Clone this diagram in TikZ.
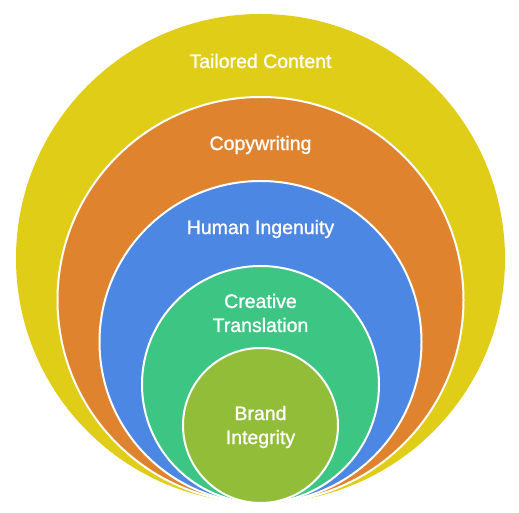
\documentclass[tikz,border=0pt]{standalone}
\usepackage{fontspec}
\setmainfont{Liberation Sans}
\newfontfamily\lblfont{Liberation Sans}[FakeBold=1.2]
\definecolor{tailyellow}{HTML}{DFCD17}
\definecolor{copyorange}{HTML}{E0832F}
\definecolor{humanblue}{HTML}{4D87E4}
\definecolor{creagreen}{HTML}{3DC584}
\definecolor{brandolive}{HTML}{92BD39}

\begin{document}
\begin{tikzpicture}[x=1pt,y=1pt,
  ring/.style={draw=white,line width=2pt},
  lbl/.style={text=white,font=\lblfont\fontsize{19.5}{24}\selectfont,align=center}]
  \useasboundingbox (0,0) rectangle (519,513);
  \fill[tailyellow] (260.5,254.5) circle[radius=244.5];
  \filldraw[ring,fill=copyorange] (260.5,213) circle[radius=203];
  \filldraw[ring,fill=humanblue] (260.5,171) circle[radius=161];
  \filldraw[ring,fill=creagreen] (260.5,128.5) circle[radius=118.5];
  \filldraw[ring,fill=brandolive] (260.5,87.5) circle[radius=77.5];
  \node[lbl] (tailored) at (260.5,452) {Tailored Content};
  \node[lbl] (copy) at (260.5,368) {Copywriting};
  \node[lbl] (human) at (260.5,284) {Human Ingenuity};
  \node[lbl] (creative) at (260.5,200) {Creative\\Translation};
  \node[lbl] (brand) at (260.5,86) {Brand\\Integrity};
\end{tikzpicture}
\end{document}
